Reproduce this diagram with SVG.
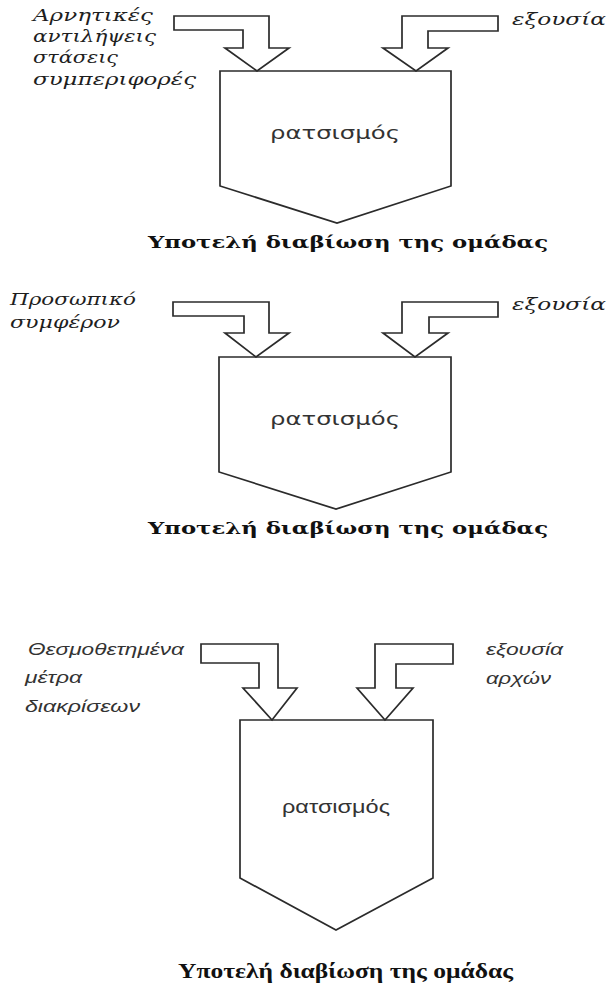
<svg xmlns="http://www.w3.org/2000/svg" width="609" height="992" viewBox="0 0 609 992">
<style>
.shape{fill:none;stroke:#2b2b2b;stroke-width:1.7;stroke-linejoin:miter}
.lbl{font-family:"DejaVu Serif","Liberation Serif",serif;font-style:italic;font-size:17px;fill:#1e1e1e}
.lbl3{font-family:"Liberation Sans",sans-serif;font-style:italic;font-size:17px;fill:#333}
.mid{font-family:"DejaVu Sans","Liberation Sans",sans-serif;font-size:17px;fill:#333}
.mid3{font-family:"Liberation Sans",sans-serif;font-size:18px;fill:#333}
.ttl{font-family:"DejaVu Serif","Liberation Serif",serif;font-weight:bold;font-size:16px;fill:#111}
.ttl3{font-family:"Liberation Serif",serif;font-weight:bold;font-size:20px;fill:#111}
</style>
<rect width="609" height="992" fill="#fff"/>

<!-- Diagram 1 -->
<g id="d1-in-left">
<text class="lbl" x="33" y="21" textLength="120" lengthAdjust="spacingAndGlyphs">Αρνητικές</text>
<text class="lbl" x="33" y="42" textLength="123" lengthAdjust="spacingAndGlyphs">αντιλήψεις</text>
<text class="lbl" x="33" y="63" textLength="85" lengthAdjust="spacingAndGlyphs">στάσεις</text>
<text class="lbl" x="33" y="85" textLength="163" lengthAdjust="spacingAndGlyphs">συμπεριφορές</text>
</g>
<g id="d1-in-right">
<text class="lbl" x="512" y="25" textLength="94" lengthAdjust="spacingAndGlyphs">εξουσία</text>
</g>
<g id="d1-node">
<path class="shape" d="M220,71 H451 V186 L337,223 L220,186 Z"/>
<text class="mid" x="270" y="139" textLength="130" lengthAdjust="spacingAndGlyphs">ρατσισμός</text>
</g>
<g id="d1-out">
<text class="ttl" x="148" y="248" textLength="400" lengthAdjust="spacingAndGlyphs">Υποτελή διαβίωση της ομάδας</text>
</g>

<!-- Diagram 2 -->
<g id="d2-in-left">
<text class="lbl" x="10" y="305" textLength="126" lengthAdjust="spacingAndGlyphs">Προσωπικό</text>
<text class="lbl" x="10" y="328" textLength="110" lengthAdjust="spacingAndGlyphs">συμφέρον</text>
</g>
<g id="d2-in-right">
<text class="lbl" x="512" y="310" textLength="94" lengthAdjust="spacingAndGlyphs">εξουσία</text>
</g>
<g id="d2-node">
<path class="shape" d="M219,357 H451 V472 L336,509 L219,472 Z"/>
<text class="mid" x="270" y="425" textLength="130" lengthAdjust="spacingAndGlyphs">ρατσισμός</text>
</g>
<g id="d2-out">
<text class="ttl" x="148" y="534" textLength="400" lengthAdjust="spacingAndGlyphs">Υποτελή διαβίωση της ομάδας</text>
</g>

<!-- Diagram 3 -->
<g id="d3-in-left">
<text class="lbl3" x="28" y="655" textLength="156" lengthAdjust="spacingAndGlyphs">Θεσμοθετημένα</text>
<text class="lbl3" x="25" y="683" textLength="57" lengthAdjust="spacingAndGlyphs">μέτρα</text>
<text class="lbl3" x="25" y="712" textLength="115" lengthAdjust="spacingAndGlyphs">διακρίσεων</text>
</g>
<g id="d3-in-right">
<text class="lbl3" x="486" y="655" textLength="77" lengthAdjust="spacingAndGlyphs">εξουσία</text>
<text class="lbl3" x="486" y="684" textLength="65" lengthAdjust="spacingAndGlyphs">αρχών</text>
</g>
<g id="d3-node">
<path class="shape" d="M240,720 H433 V878 L336,930 L240,878 Z"/>
<text class="mid3" x="282" y="813" textLength="108" lengthAdjust="spacingAndGlyphs">ρατσισμός</text>
</g>
<g id="d3-out">
<text class="ttl3" x="178" y="978" textLength="335" lengthAdjust="spacingAndGlyphs">Υποτελή διαβίωση της ομάδας</text>
</g>

<!-- Connectors: block arrows -->
<g id="connectors">
<path class="shape" d="M174,16 H269 V48 H289 L257,71 L225,48 H243 V30 H174 Z"/>
<path class="shape" d="M498,16 H402 V48 H383 L416,71 L448,48 H428 V31 H498 Z"/>
<path class="shape" d="M173,302 H269 V333 H289 L256,357 L225,333 H244 V316 H173 Z"/>
<path class="shape" d="M498,302 H402 V333 H383 L415,357 L448,333 H429 V317 H498 Z"/>
<path class="shape" d="M201,644 H278 V688 H297 L272,720 L243,688 H259 V663 H201 Z"/>
<path class="shape" d="M453,644 H375 V688 H357 L385,720 L413,688 H396 V664 H453 Z"/>
</g>
</svg>
